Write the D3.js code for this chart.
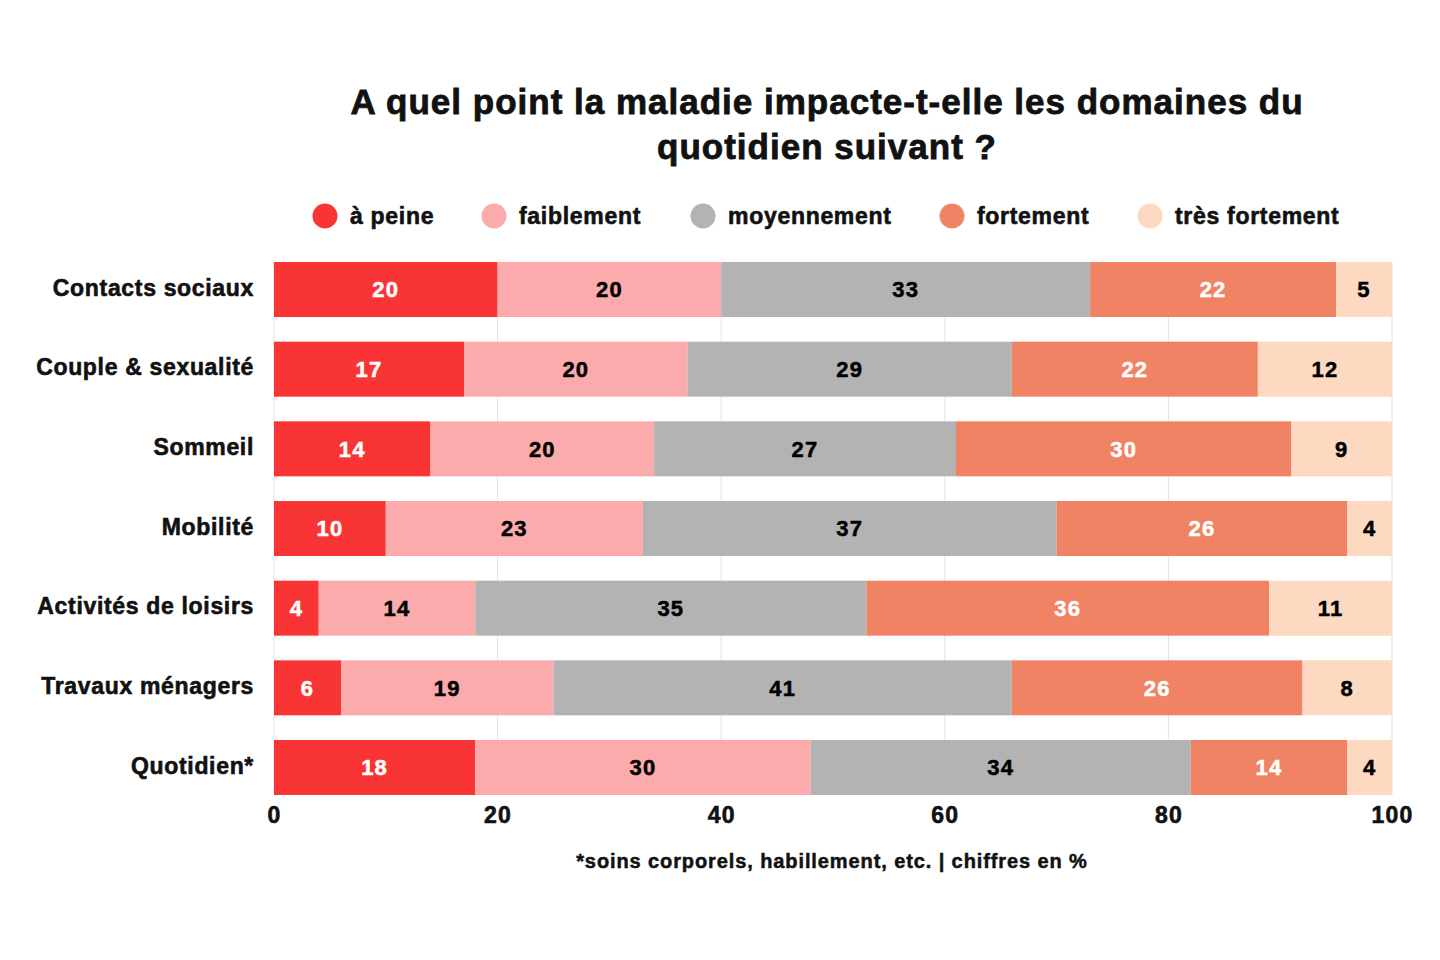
<!DOCTYPE html>
<html><head><meta charset="utf-8">
<script src="https://cdn.jsdelivr.net/npm/d3@7"></script>
<style>
body{margin:0;background:#fff;}
svg{display:block;font-family:"Liberation Sans",Arial,sans-serif;font-weight:bold;}
</style></head>
<body>
<svg id="c" width="1440" height="960"></svg>
<script>
const categories = ["Contacts sociaux","Couple & sexualité","Sommeil","Mobilité","Activités de loisirs","Travaux ménagers","Quotidien*"];
const seriesNames = ["à peine","faiblement","moyennement","fortement","très fortement"];
const aPeine = [20,17,14,10,4,6,18];
const faiblement = [20,20,20,23,14,19,30];
const moyennement = [33,29,27,37,35,41,34];
const fortement = [22,22,30,26,36,26,14];
const tresFortement = [5,12,9,4,11,8,4];
const colors = ["#f93434","#fbabab","#b3b3b3","#ef8363","#fdd9c1"];
const labelColors = ["#fff","#000","#000","#fff","#000"];
const xTicks = [0,20,40,60,80,100];
const title = ["A quel point la maladie impacte-t-elle les domaines du","quotidien suivant ?"];
const footnote = "*soins corporels, habillement, etc. | chiffres en %";

const series = [aPeine,faiblement,moyennement,fortement,tresFortement];
const rows = categories.map((c,i)=>{const o={cat:c}; seriesNames.forEach((s,j)=>o[s]=series[j][i]); return o;});
const stacked = d3.stack().keys(seriesNames)(rows);

const svg = d3.select("#c");
const x = d3.scaleLinear().domain([0,100]).range([274,1392]);
const y = d3.scaleBand().domain(categories).range([262,795]).paddingInner(24.67/79.67).paddingOuter(0);

function heavy(sel, col, w){ return sel.attr("stroke", col).attr("stroke-width", w).attr("paint-order","stroke"); }

// grid
svg.append("g").selectAll("line").data(xTicks).join("line")
  .attr("x1",d=>x(d)).attr("x2",d=>x(d)).attr("y1",262).attr("y2",795)
  .attr("stroke","#e3e3e3").attr("stroke-width",1);

// title
heavy(svg.append("text").attr("text-anchor","middle").attr("font-size",35).attr("fill","#111")
  .attr("letter-spacing",1.0), "#111", 0.8)
  .selectAll("tspan").data(title).join("tspan")
  .attr("x",827).attr("y",(d,i)=>114+i*45).text(d=>d);

// legend
const legX = [325,494,703,952,1150];
const leg = svg.append("g").selectAll("g").data(seriesNames).join("g")
  .attr("transform",(d,i)=>`translate(${legX[i]},216)`);
leg.append("circle").attr("r",12.5).attr("fill",(d,i)=>colors[i]);
heavy(leg.append("text").attr("x",25).attr("dy","0.35em").attr("font-size",23)
  .attr("letter-spacing",0.7).attr("fill","#111").text(d=>d), "#111", 0.6);

// bars
const g = svg.append("g");
stacked.forEach((s,si)=>{
  const gg = g.append("g");
  gg.selectAll("rect").data(s).join("rect")
    .attr("x",d=>x(d[0])).attr("width",d=>x(d[1])-x(d[0]))
    .attr("y",d=>y(d.data.cat)).attr("height",y.bandwidth())
    .attr("fill",colors[si]);
  heavy(gg.selectAll("text").data(s).join("text")
    .attr("x",d=>(x(d[0])+x(d[1]))/2).attr("y",d=>y(d.data.cat)+y.bandwidth()/2)
    .attr("dy","0.36em").attr("text-anchor","middle").attr("font-size",22)
    .attr("letter-spacing",1.2)
    .attr("fill",labelColors[si]).text(d=>d[1]-d[0]), labelColors[si], 0.5);
});

// category axis
heavy(svg.append("g").selectAll("text").data(categories).join("text")
  .attr("x",254).attr("y",d=>y(d)+y.bandwidth()/2-2).attr("dy","0.35em")
  .attr("text-anchor","end").attr("font-size",23).attr("letter-spacing",0.67)
  .attr("fill","#111").text(d=>d), "#111", 0.6);

// x axis
const xAxis = svg.append("g").attr("transform","translate(0,795)")
  .call(d3.axisBottom(x).tickValues(xTicks).tickSize(0).tickPadding(12));
xAxis.select(".domain").remove();
heavy(xAxis.selectAll("text").attr("font-size",23).attr("fill","#111").attr("letter-spacing",1.2)
  .attr("font-family","'Liberation Sans',Arial,sans-serif").attr("font-weight","bold"), "#111", 0.6);

// footnote
heavy(svg.append("text").attr("x",832).attr("y",868).attr("text-anchor","middle")
  .attr("font-size",20).attr("letter-spacing",0.9).attr("fill","#111").text(footnote), "#111", 0.5);
</script>
</body></html>
